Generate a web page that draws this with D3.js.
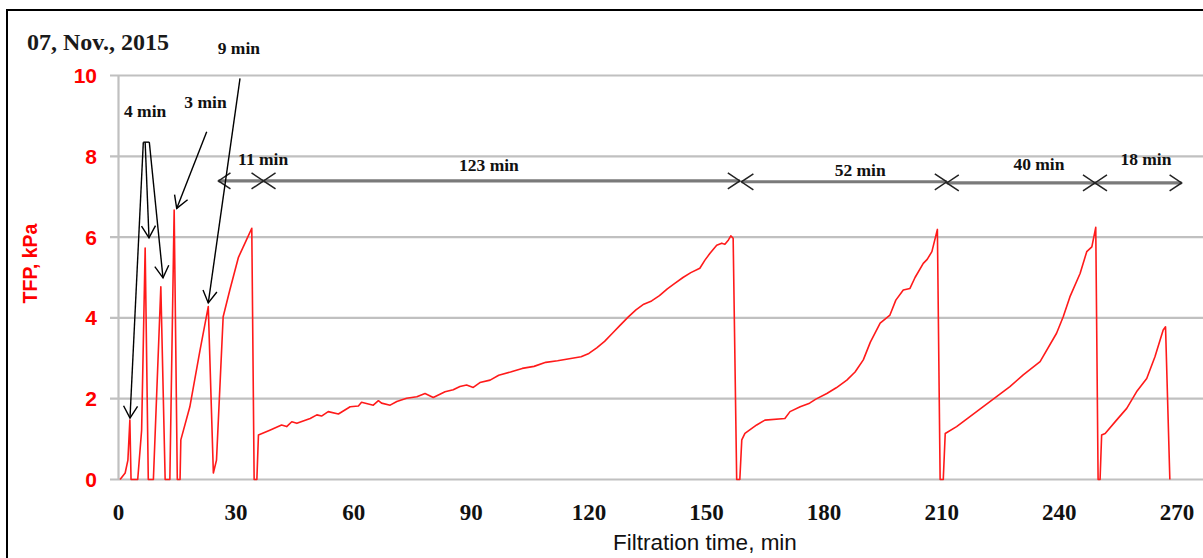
<!DOCTYPE html>
<html><head><meta charset="utf-8">
<script src="https://cdn.jsdelivr.net/npm/d3@7"></script>
<style>body{margin:0;background:#fff}svg{display:block}</style>
</head><body>
<svg id="c" width="1203" height="558"></svg>
<script>
// ---- data ----
const xTicks = [0,30,60,90,120,150,180,210,240,270];
const yTicks = [0,2,4,6,8,10];
const timeMin = [0.4,1.7,2.4,2.9,3.2, 4.9,5.9,6.8,7.6, 8.9,10.8,11.9, 13.1,14.2,15.0,
 15.7,15.9,18.2,20.8,22.9,24.2,25.0,26.7,28.4,30.6,32.5,34.0,34.6,35.3,35.7,
 38.6,41.6,42.9,44.2,45.5,48.9,50.6,51.8,53.5,56.1,59.1,61.2,62.0,65.0,66.3,67.1,69.3,71.0,73.5,76.1,78.2,80.3,83.3,85.4,87.1,88.8,90.5,92.2,94.8,
 97,100,103,106,109,112,115,118,120,122,124,126,128,130,132,134,136,138,140,142,144,146,148.3,
 149.6,150.9,152.6,153.9,154.7,155.6,156.2,156.8,157.7,158.5,159.0,159.8,
 162.8,164.9,170.0,171.3,173.9,176.3,177.9,180.7,183.1,185.8,187.9,190.0,191.8,194.3,196.8,198.3,200.2,201.9,203.2,205.3,206.3,207.5,208.9,209.6,210.4,210.9,
 213.8,218.9,224.0,227.4,230.8,235.1,239.3,241.0,242.7,245.3,247.0,248.3,249.3,249.9,250.4,250.8,
 251.7,254.6,257.2,259.7,262.3,264.4,266.5,267.1,268.2];
const tfpKPa = [0,0.16,0.48,1.47,0, 0,1.22,5.73,0, 0,4.77,0, 0,6.67,0,
 0,0.98,1.8,3.2,4.28,0.16,0.48,4.03,4.69,5.5,5.9,6.22,0,0,1.10,
 1.22,1.35,1.31,1.43,1.39,1.51,1.60,1.57,1.68,1.62,1.80,1.82,1.91,1.84,1.95,1.89,1.84,1.93,2.01,2.05,2.13,2.03,2.17,2.22,2.30,2.34,2.28,2.40,2.46,
 2.58,2.66,2.75,2.80,2.90,2.94,2.99,3.04,3.12,3.26,3.42,3.62,3.82,4.02,4.2,4.34,4.42,4.55,4.72,4.86,5.0,5.12,5.23,
 5.43,5.60,5.80,5.85,5.82,5.93,6.03,5.97,0,0,0.98,1.14,
 1.35,1.47,1.51,1.68,1.80,1.89,1.99,2.13,2.27,2.46,2.66,2.96,3.40,3.87,4.07,4.44,4.69,4.73,5.0,5.35,5.45,5.64,6.19,0,0,1.14,
 1.31,1.68,2.05,2.30,2.59,2.92,3.62,4.03,4.52,5.10,5.64,5.76,6.24,0,0,1.10,
 1.14,1.47,1.76,2.17,2.50,3.04,3.70,3.78,0];

// callouts (min, kPa)
const calloutLabels = ["4 min","3 min","9 min"];
const calloutLabelAt = [[6.8,9.12],[22.2,9.35],[30.7,10.69]];
const calloutFrom = [[6.33,8.35],[6.8,8.35],[7.86,8.35],[22.5,8.61],[31.0,9.93]];
const calloutTo   = [[2.93,1.52],[7.78,5.98],[11.35,4.99],[14.85,6.71],[22.9,4.37]];
const calloutBar  = [[6.33,8.35],[7.86,8.35]];

// cycle durations
const durationLabels = ["11 min","123 min","52 min","40 min","18 min"];
const durationStart = [25.5,37.0,158.9,211.3,249.1];
const durationEnd   = [37.0,158.5,211.3,249.1,271.2];
const durationLevel = [7.39,7.39,7.37,7.34,7.34];
const durationLabelAt = [[36.9,7.93],[94.5,7.79],[189.2,7.67],[234.8,7.82],[262.1,7.93]];

// ---- drawing ----
const svg = d3.select("#c");
const x = d3.scaleLinear().domain([0,270]).range([118.5,1176.9]);
const y = d3.scaleLinear().domain([0,10]).range([479.5,75.5]);

svg.append("rect").attr("x",7).attr("y",10).attr("width",1220).attr("height",570)
  .attr("fill","#fff").attr("stroke","#000").attr("stroke-width",2);

const defs = svg.append("defs");
defs.append("marker").attr("id","ah").attr("viewBox","-14 -9 16 18")
  .attr("markerUnits","userSpaceOnUse").attr("markerWidth",16).attr("markerHeight",18)
  .attr("refX",0).attr("refY",0).attr("orient","auto-start-reverse")
  .append("path").attr("d","M-12,-7L0,0L-12,7").attr("fill","none").attr("stroke","#000").attr("stroke-width",1.4);
defs.append("marker").attr("id","dh").attr("viewBox","-14 -10 16 20")
  .attr("markerUnits","userSpaceOnUse").attr("markerWidth",16).attr("markerHeight",20)
  .attr("refX",0).attr("refY",0).attr("orient","auto-start-reverse")
  .append("path").attr("d","M-12,-8L0,0L-12,8").attr("fill","none").attr("stroke","#222").attr("stroke-width",1.5);

// gridlines
svg.append("g").selectAll("line").data(yTicks).join("line")
  .attr("x1",110).attr("x2",1210).attr("y1",d=>y(d)).attr("y2",d=>y(d))
  .attr("stroke","#c0c0c0").attr("stroke-width",2.2);
svg.append("line").attr("x1",x(0)).attr("x2",x(0)).attr("y1",y(10)).attr("y2",y(0))
  .attr("stroke","#c0c0c0").attr("stroke-width",2.2);

// y axis labels
svg.append("g").selectAll("text").data(yTicks).join("text")
  .attr("x",97).attr("y",d=>y(d)).attr("dy","0.36em").attr("text-anchor","end")
  .attr("fill","#ff0000").attr("font-family","Liberation Sans, Arial, sans-serif")
  .attr("font-weight","bold").attr("font-size",21).text(d=>d);
svg.append("text").attr("transform","translate(37,263.5) rotate(-90)").attr("text-anchor","middle")
  .attr("fill","#ff0000").attr("font-family","Liberation Sans, Arial, sans-serif")
  .attr("font-weight","bold").attr("font-size",19.5).text("TFP, kPa");

// x axis labels
svg.append("g").selectAll("text").data(xTicks).join("text")
  .attr("x",d=>x(d)).attr("y",520).attr("text-anchor","middle")
  .attr("fill","#111").attr("font-family","Liberation Serif, DejaVu Serif, serif")
  .attr("font-weight","bold").attr("font-size",23).text(d=>d);
svg.append("text").attr("x",705).attr("y",550).attr("text-anchor","middle")
  .attr("fill","#111").attr("font-family","Liberation Sans, Arial, sans-serif")
  .attr("font-size",22.5).text("Filtration time, min");

// title
svg.append("text").attr("x",27).attr("y",50)
  .attr("fill","#1a1a1a").attr("font-family","Liberation Serif, DejaVu Serif, serif")
  .attr("font-weight","bold").attr("font-size",24).text("07, Nov., 2015");

// data line
const pts = timeMin.map((t,i)=>[t,tfpKPa[i]]);
svg.append("path").datum(pts)
  .attr("d",d3.line().x(d=>x(d[0])).y(d=>y(d[1])))
  .attr("fill","none").attr("stroke","#ff1a1a").attr("stroke-width",1.6).attr("stroke-linejoin","round");

// duration dimension lines
const dur = durationLabels.map((l,i)=>({l,s:durationStart[i],e:durationEnd[i],v:durationLevel[i],at:durationLabelAt[i]}));
svg.append("g").selectAll("line").data(dur).join("line")
  .attr("x1",d=>x(d.s)).attr("x2",d=>x(d.e)).attr("y1",d=>y(d.v)).attr("y2",d=>y(d.v))
  .attr("stroke","#7a7a7a").attr("stroke-width",3.2)
  .attr("marker-start","url(#dh)").attr("marker-end","url(#dh)");
svg.append("g").selectAll("text").data(dur).join("text")
  .attr("x",d=>x(d.at[0])).attr("y",d=>y(d.at[1])).attr("dy","0.35em").attr("text-anchor","middle")
  .attr("fill","#111").attr("font-family","Liberation Serif, DejaVu Serif, serif")
  .attr("font-weight","bold").attr("font-size",17.5).text(d=>d.l);

// callouts
svg.append("line").attr("x1",x(calloutBar[0][0])).attr("x2",x(calloutBar[1][0]))
  .attr("y1",y(calloutBar[0][1])).attr("y2",y(calloutBar[1][1])).attr("stroke","#000").attr("stroke-width",1.4);
svg.append("g").selectAll("line").data(calloutFrom).join("line")
  .attr("x1",d=>x(d[0])).attr("y1",d=>y(d[1]))
  .attr("x2",(d,i)=>x(calloutTo[i][0])).attr("y2",(d,i)=>y(calloutTo[i][1]))
  .attr("stroke","#000").attr("stroke-width",1.4).attr("marker-end","url(#ah)");
svg.append("g").selectAll("text").data(calloutLabels).join("text")
  .attr("x",(d,i)=>x(calloutLabelAt[i][0])).attr("y",(d,i)=>y(calloutLabelAt[i][1])).attr("dy","0.35em")
  .attr("text-anchor","middle").attr("fill","#111").attr("font-family","Liberation Serif, DejaVu Serif, serif")
  .attr("font-weight","bold").attr("font-size",17.5).text(d=>d);
</script>
</body></html>
